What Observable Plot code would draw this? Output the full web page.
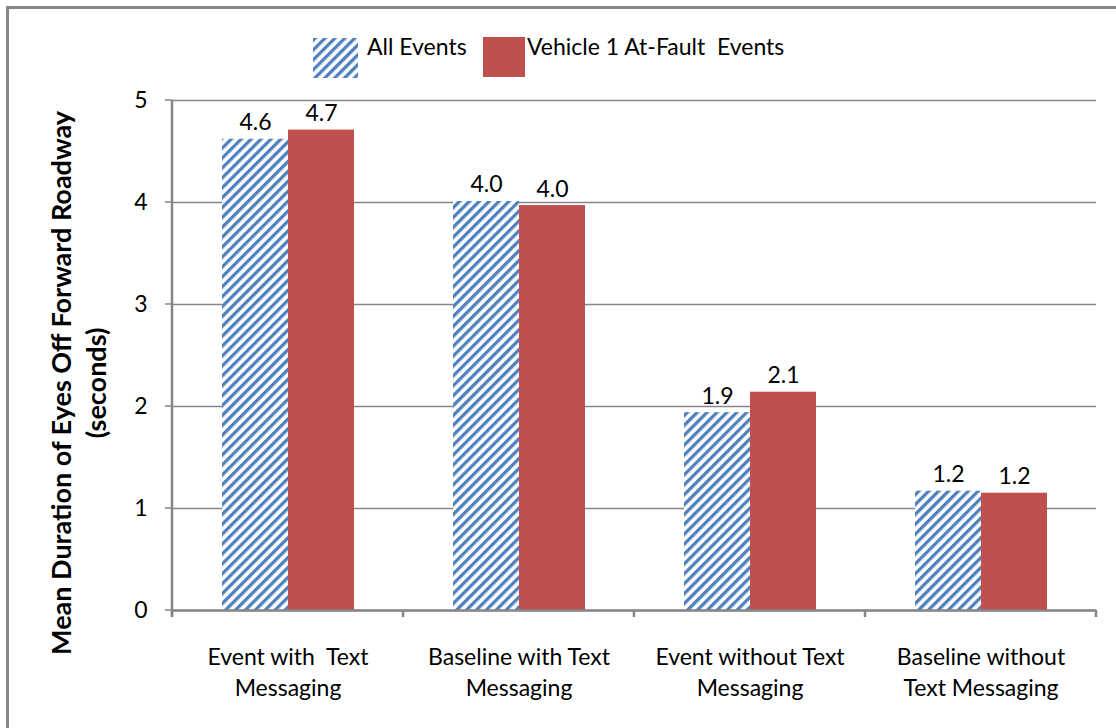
<!DOCTYPE html>
<html><head><meta charset="utf-8">
<script src="https://cdn.jsdelivr.net/npm/d3@7"></script>
<script src="https://cdn.jsdelivr.net/npm/@observablehq/plot@0.6"></script>
<style>
body{margin:0;background:#fff;font-family:Lato,sans-serif;}
#wrap{position:relative;width:1116px;height:728px;overflow:hidden;}
#border{position:absolute;left:6px;top:6px;width:1200px;height:800px;border:3px solid #878787;}
#chart{position:absolute;left:0;top:80px;}
.lg-sw{position:absolute;}
.lg-tx{position:absolute;font-size:23px;line-height:23px;white-space:pre;color:#000;}
#ytitle{position:absolute;left:78px;top:383px;transform:translate(-50%,-50%) rotate(-90deg);font-weight:bold;font-size:27px;line-height:35px;text-align:center;white-space:nowrap;color:#000;}
</style></head><body>
<svg width="0" height="0" style="position:absolute">
 <defs>
  <pattern id="hatch" patternUnits="userSpaceOnUse" width="7" height="7" patternTransform="rotate(45)">
   <rect x="0" y="0" width="7" height="7" fill="#fff"/>
   <rect x="0" y="0" width="3.3" height="7" fill="#4F81BD"/>
  </pattern>
 </defs>
</svg>
<div id="wrap">
 <div id="border"></div>
 <div id="legend"></div>
 <div id="ytitle">Mean Duration of Eyes Off Forward Roadway<br>(seconds)</div>
 <div id="chart"></div>
</div>
<script>
const categories = ["Event with  Text\nMessaging", "Baseline with Text\nMessaging", "Event without Text\nMessaging", "Baseline without\nText Messaging"];
const series = ["All Events", "Vehicle 1 At-Fault  Events"];
const allEvents = [4.62, 4.01, 1.94, 1.17];
const atFault = [4.71, 3.97, 2.14, 1.15];
const allLabels = ["4.6", "4.0", "1.9", "1.2"];
const atFaultLabels = ["4.7", "4.0", "2.1", "1.2"];
const yTicks = [0, 1, 2, 3, 4, 5];
const seriesFills = ["url(#hatch)", "#C0504D"];

const data = categories.flatMap((c, i) => [
  {category: c, series: series[0], value: allEvents[i], label: allLabels[i]},
  {category: c, series: series[1], value: atFault[i], label: atFaultLabels[i]}
]);

// legend
const legend = document.getElementById("legend");
const lg = [
  {sw: [313, 38, 45, 40], tx: 367},
  {sw: [483, 37, 42, 40], tx: 527}
];
series.forEach((s, i) => {
  const [l, t, w, h] = lg[i].sw;
  const sw = document.createElementNS("http://www.w3.org/2000/svg", "svg");
  sw.setAttribute("class", "lg-sw");
  sw.setAttribute("width", w); sw.setAttribute("height", h);
  sw.style.left = l + "px"; sw.style.top = t + "px";
  const r = document.createElementNS("http://www.w3.org/2000/svg", "rect");
  r.setAttribute("width", w); r.setAttribute("height", h); r.setAttribute("fill", seriesFills[i]);
  sw.appendChild(r);
  legend.appendChild(sw);
  const tx = document.createElement("div");
  tx.className = "lg-tx"; tx.textContent = s;
  tx.style.left = lg[i].tx + "px"; tx.style.top = "35px";
  legend.appendChild(tx);
});

const plot = Plot.plot({
  width: 1116, height: 648,
  marginLeft: 171, marginRight: 19, marginTop: 20, marginBottom: 118,
  style: {fontFamily: "Lato, sans-serif", fontSize: "23px", color: "#000", background: "transparent", overflow: "visible"},
  fx: {domain: categories, padding: 0, axis: null},
  x: {domain: series, paddingInner: 0, paddingOuter: 0.728, axis: null},
  y: {domain: [0, 5], ticks: yTicks, nice: false, label: null, tickSize: 0, tickPadding: 25, tickFormat: d => String(d)},
  color: {domain: series, range: seriesFills},
  marks: [
    Plot.ruleY(yTicks, {stroke: "#868686", strokeOpacity: 1, strokeWidth: 1.5}),
    Plot.barY(data, {fx: "category", x: "series", y: "value", fill: "series"}),
    Plot.ruleY([0], {stroke: "#868686", strokeWidth: 2.5}),
    Plot.text(data, {fx: "category", x: "series", y: "value", text: "label", dy: -9, lineAnchor: "bottom", fontSize: 23, fill: "#000"}),
    Plot.text(categories, {fx: d => d, text: d => d, frameAnchor: "bottom", lineAnchor: "top", dy: 32, lineHeight: 1.35, fontSize: 23, fill: "#000"})
  ]
});
document.getElementById("chart").appendChild(plot);

// axis line and boundary ticks derived from the plot's scales
const fx = plot.scale("fx"), y = plot.scale("y");
const svg = d3.select(plot);
const x0 = fx.apply(categories[0]);
const edges = categories.map(c => fx.apply(c)).concat([fx.apply(categories[categories.length - 1]) + fx.bandwidth]);
const g = svg.append("g").attr("stroke", "#868686");
g.append("line").attr("x1", x0).attr("x2", x0).attr("y1", y.apply(5)).attr("y2", y.apply(0) + 7).attr("stroke-width", 2.5);
yTicks.forEach(v => g.append("line").attr("x1", x0 - 7).attr("x2", x0).attr("y1", y.apply(v)).attr("y2", y.apply(v)).attr("stroke-width", 1.5));
edges.forEach(e => g.append("line").attr("x1", e).attr("x2", e).attr("y1", y.apply(0)).attr("y2", y.apply(0) + 7).attr("stroke-width", 2.5));
</script>
</body></html>
